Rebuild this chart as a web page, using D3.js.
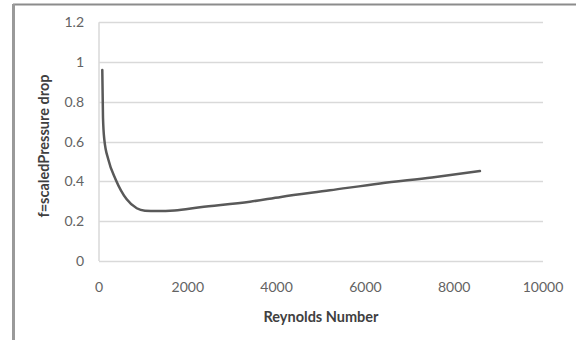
<!DOCTYPE html>
<html><head><meta charset="utf-8">
<script src="https://cdn.jsdelivr.net/npm/d3@7"></script>
<style>body{margin:0;background:#fff}svg{display:block}</style>
</head><body>
<script>
const reynolds = [74, 90, 120, 210, 375, 624, 850, 1036, 1300, 1700, 2275, 3400, 4100, 5200, 6330, 7500, 8580];
const fValues = [0.96, 0.72, 0.61, 0.51, 0.41, 0.31, 0.265, 0.253, 0.251, 0.254, 0.27, 0.298, 0.322, 0.355, 0.39, 0.42, 0.452];
const xTicks = [0, 2000, 4000, 6000, 8000, 10000];
const yTicks = [0, 0.2, 0.4, 0.6, 0.8, 1, 1.2];
const xTitle = "Reynolds Number";
const yTitle = "f=scaledPressure drop";

const W = 576, H = 340;
const svg = d3.select("body").append("svg").attr("width", W).attr("height", H);

// outer frame
svg.append("line").attr("x1", 13).attr("x2", W).attr("y1", 4.5).attr("y2", 4.5)
  .attr("stroke", "#8c8c8c").attr("stroke-width", 2);
svg.append("line").attr("x1", 13.5).attr("x2", 13.5).attr("y1", 4).attr("y2", H)
  .attr("stroke", "#9a9a9a").attr("stroke-width", 3);

const x = d3.scaleLinear().domain([0, 10000]).range([99, 543]);
const y = d3.scaleLinear().domain([0, 1.2]).range([261, 22.2]);

const font = "Lato, 'Open Sans', sans-serif";

// gridlines
svg.append("g").selectAll("line").data(yTicks).join("line")
  .attr("x1", x(0)).attr("x2", x(10000))
  .attr("y1", d => Math.round(y(d)) + 0.5).attr("y2", d => Math.round(y(d)) + 0.5)
  .attr("stroke", "#d9d9d9").attr("stroke-width", 1.5);
svg.append("line").attr("x1", x(0)).attr("x2", x(0)).attr("y1", y(1.2)).attr("y2", y(0))
  .attr("stroke", "#d9d9d9").attr("stroke-width", 1.5);

// y tick labels
svg.append("g").selectAll("text").data(yTicks).join("text")
  .attr("x", 84).attr("y", d => y(d)).attr("dy", "0.35em")
  .attr("text-anchor", "end").attr("font-family", font).attr("font-size", 14)
  .attr("fill", "#636363").text(d => d3.format("~g")(d));

// x tick labels
svg.append("g").selectAll("text").data(xTicks).join("text")
  .attr("x", d => x(d)).attr("y", 287).attr("dy", "0.35em")
  .attr("text-anchor", "middle").attr("font-family", font).attr("font-size", 14)
  .attr("fill", "#636363").text(d => d);

// axis titles
svg.append("text").attr("x", 321).attr("y", 317).attr("dy", "0.35em")
  .attr("text-anchor", "middle").attr("font-family", font).attr("font-size", 14.5)
  .attr("font-weight", "bold").attr("fill", "#404040").text(xTitle);
svg.append("text").attr("transform", "translate(44,146) rotate(-90)").attr("dy", "0.35em")
  .attr("text-anchor", "middle").attr("font-family", font).attr("font-size", 14.5)
  .attr("font-weight", "bold").attr("fill", "#404040").text(yTitle);

// curve
const pts = reynolds.map((r, i) => [r, fValues[i]]);
svg.append("path").datum(pts)
  .attr("d", d3.line().x(d => x(d[0])).y(d => y(d[1])).curve(d3.curveMonotoneX))
  .attr("fill", "none").attr("stroke", "#595959").attr("stroke-width", 2.5)
  .attr("stroke-linecap", "round");
</script>
</body></html>
